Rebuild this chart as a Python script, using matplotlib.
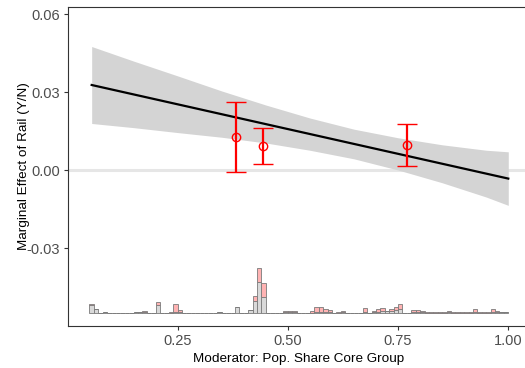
import matplotlib
matplotlib.use("Agg")
import matplotlib.pyplot as plt
import numpy as np

plt.rcParams['font.family'] = ['Liberation Sans', 'DejaVu Sans']

# fitted marginal effect line (end points) and its confidence band
line_x = [0.055, 1.0]
line_y = [0.0327, -0.0033]
band_x = [0.055, 0.15, 0.25, 0.35, 0.45, 0.55, 0.65, 0.75, 0.85, 0.95, 1.0]
band_lo = [0.0179, 0.0163, 0.0144, 0.0126, 0.0104, 0.0076, 0.0043, 0.0000, -0.0049, -0.0104, -0.0136]
band_hi = [0.0475, 0.0419, 0.0362, 0.0304, 0.0250, 0.0200, 0.0157, 0.0124, 0.0097, 0.0076, 0.0070]

# binned estimates
bin_x = [0.382, 0.443, 0.770]
bin_est = [0.0127, 0.0092, 0.0098]
bin_lo = [-0.0008, 0.0023, 0.0014]
bin_hi = [0.0262, 0.0163, 0.0178]

# histogram of the moderator (bins of 0.01 from 0.05), control / treated counts
hist_start = 0.05
hist_width = 0.01
hist_ctrl = [8, 4, 0.3, 1, 0.3, 0, 0, 0, 0.3, 0.5,
             1, 0.8, 0.8, 0.3, 0.3, 8.3, 0.3, 0, 0.5, 1.5,
             1, 0.3, 0, 0, 0, 0, 0, 0, 0.3, 1,
             0.3, 0, 0.3, 6, 0.5, 0.3, 3.3, 12.7, 31, 16.7,
             0.5, 0.5, 0.5, 0.3, 0.8, 1, 0.8, 0.5, 0.5, 0.3,
             0.7, 1.5, 1.5, 1, 0.8, 0.5, 0.5, 1.5, 0.3, 0.3,
             0.3, 0.3, 1, 0.5, 1, 1, 1.8, 2.7, 2.5, 3,
             4, 0.7, 0.7, 1.3, 1.3, 1, 0.7, 0.7, 0.7, 0.7,
             0.7, 1.7, 0.7, 0.7, 0.7, 0.7, 0.5, 1.2, 0.7, 0.7,
             0.7, 1.2, 1, 1, 0.8]
hist_treat = [1, 0.3, 0, 0, 0, 0, 0, 0, 0, 0,
              0, 0.3, 1.5, 0, 0, 2.7, 0, 0, 1.2, 8,
              2.3, 0, 0, 0, 0, 0, 0, 0, 0, 0,
              0, 0, 0, 0, 0, 0, 0, 5, 14.7, 13.3,
              0, 0, 0, 0.3, 1.5, 1.7, 1.7, 0, 0, 0.3,
              2, 4.5, 4.5, 3, 2.2, 0, 0.3, 1.2, 0, 0,
              0, 0, 4.3, 0, 1, 3, 3.5, 0, 1.5, 3,
              5, 0, 0, 2, 2, 1.3, 1, 1, 1, 1,
              1, 1, 0.3, 0.3, 0.3, 0.3, 1.2, 3.5, 0.3, 0.3,
              1, 3.5, 1, 0.7, 0.5]

hist_base = -0.0551
hist_top = 0.01754  # height of the tallest stacked bar in data units

fig = plt.figure(figsize=(5.25, 3.68), dpi=100)
ax = fig.add_axes([68 / 525, 42 / 368, (529 - 68) / 525, 319 / 368])

# zero reference line
ax.axhline(0, color='#e6e6e6', lw=2.2, zorder=1)

# confidence band and fitted line
ax.fill_between(band_x, band_lo, band_hi, color='#d4d4d4', lw=0, zorder=2)
ax.plot(line_x, line_y, color='black', lw=1.6, zorder=3)

# binned estimates with error bars
est = np.array(bin_est)
yerr = [est - np.array(bin_lo), np.array(bin_hi) - est]
ax.errorbar(bin_x, bin_est, yerr=yerr, fmt='o', mfc='none', mec='red', ms=6,
            mew=1.0, ecolor='red', elinewidth=1.6, capsize=7.2, capthick=1.6, zorder=4)

# stacked histogram at the bottom
ctrl = np.array(hist_ctrl)
treat = np.array(hist_treat)
scale = hist_top / (ctrl + treat).max()
lefts = hist_start + hist_width * np.arange(len(ctrl))
ax.bar(lefts, ctrl * scale, width=hist_width, bottom=hist_base, align='edge',
       color='#d9d9d9', edgecolor='#7a7a7a', lw=0.6, zorder=2)
ax.bar(lefts, treat * scale, width=hist_width, bottom=hist_base + ctrl * scale,
       align='edge', color='#ffb3b3', edgecolor='#7a7a7a', lw=0.6, zorder=2)

ax.set_xlim(0.0013, 1.047)
ax.set_ylim(-0.0600, 0.0627)
ax.set_xticks([0.25, 0.50, 0.75, 1.00])
ax.set_xticklabels(['0.25', '0.50', '0.75', '1.00'])
ax.set_yticks([-0.03, 0.0, 0.03, 0.06])
ax.set_yticklabels(['-0.03', '0.00', '0.03', '0.06'])

for s in ax.spines.values():
    s.set_color('#333333')
    s.set_linewidth(0.8)
ax.tick_params(axis='both', direction='out', length=3, width=0.8, color='#333333',
               labelcolor='#4d4d4d', labelsize=10.5, pad=2.5)

ax.set_xlabel('Moderator: Pop. Share Core Group', fontsize=9.7, color='black', labelpad=4)
ax.set_ylabel('Marginal Effect of Rail (Y/N)', fontsize=9.7, color='black', labelpad=-2)

fig.savefig('out.png', dpi=100)
